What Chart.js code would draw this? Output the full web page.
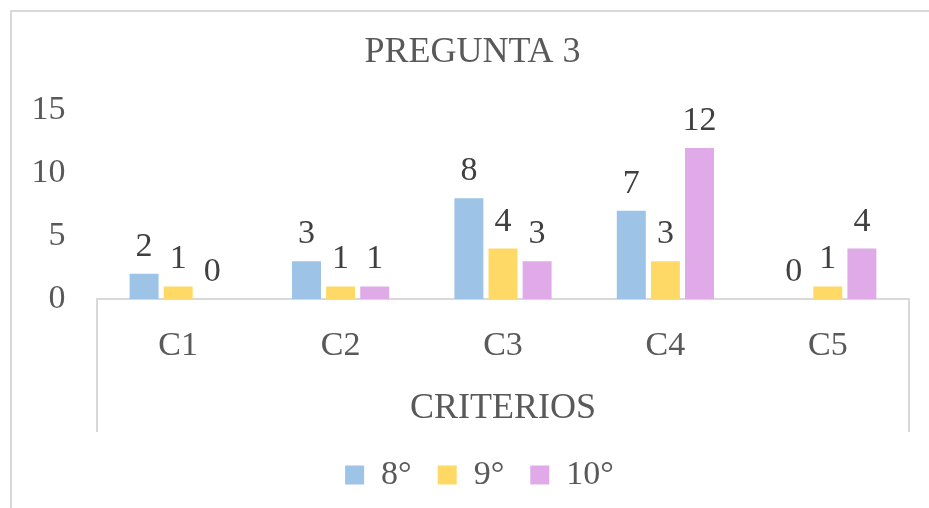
<!DOCTYPE html>
<html>
<head>
<meta charset="utf-8">
<script src="https://cdn.jsdelivr.net/npm/chart.js@4"></script>
<style>
  html, body { margin: 0; padding: 0; background: #fff; overflow: hidden; }
  #wrap { position: relative; width: 929px; height: 508px; }
  #frame { position: absolute; left: 10px; top: 10px; width: 1000px; height: 1000px;
           border: 2px solid #d9d9d9; box-sizing: border-box; }
  canvas { position: absolute; left: 0; top: 0; }
</style>
</head>
<body>
<div id="wrap">
  <div id="frame"></div>
  <canvas id="chart" width="929" height="508"></canvas>
</div>
<script>
// data
var categories = ["C1", "C2", "C3", "C4", "C5"];
var seriesNames = ["8°", "9°", "10°"];
var grado8 = [2, 3, 8, 7, 0];
var grado9 = [1, 1, 4, 3, 1];
var grado10 = [0, 1, 3, 12, 4];

var FONT = "'Liberation Serif', 'Times New Roman', serif";

// value labels above each bar
var valueLabels = {
  id: "valueLabels",
  afterDatasetsDraw: function (chart) {
    var ctx = chart.ctx;
    ctx.save();
    ctx.font = "34px " + FONT;
    ctx.fillStyle = "#404040";
    ctx.textAlign = "center";
    ctx.textBaseline = "alphabetic";
    chart.data.datasets.forEach(function (ds, i) {
      chart.getDatasetMeta(i).data.forEach(function (bar, j) {
        ctx.fillText(String(ds.data[j]), bar.x, bar.y - 18);
      });
    });
    ctx.restore();
  }
};

// side lines of the category axis box
var axisBox = {
  id: "axisBox",
  afterLayout: function (chart) {
    // title and legend sit a bit right of the canvas centre
    chart.legend.left += 50;
    chart.titleBlock.left += 36;
  },
  afterDraw: function (chart) {
    var x = chart.scales.x;
    var ctx = chart.ctx;
    ctx.save();
    ctx.strokeStyle = "#d9d9d9";
    ctx.lineWidth = 2;
    ctx.beginPath();
    ctx.moveTo(x.left, x.top);
    ctx.lineTo(x.left, x.bottom);
    ctx.moveTo(x.right, x.top);
    ctx.lineTo(x.right, x.bottom);
    ctx.stroke();
    ctx.restore();
  }
};

var chart = new Chart(document.getElementById("chart"), {
  type: "bar",
  data: {
    labels: categories,
    datasets: [
      { label: seriesNames[0], data: grado8, backgroundColor: "#9dc3e6" },
      { label: seriesNames[1], data: grado9, backgroundColor: "#ffd966" },
      { label: seriesNames[2], data: grado10, backgroundColor: "#e0aae9" }
    ]
  },
  options: {
    responsive: false,
    animation: false,
    layout: { padding: { left: 0, right: 20, top: 0, bottom: 6 } },
    categoryPercentage: 0.63,
    barPercentage: 0.85,
    plugins: {
      title: {
        display: true,
        text: "PREGUNTA 3",
        color: "#595959",
        font: { family: FONT, size: 36, weight: "normal" },
        padding: { top: 31, bottom: 36 }
      },
      legend: {
        position: "bottom",
        labels: {
          color: "#595959",
          font: { family: FONT, size: 34 },
          boxWidth: 19,
          boxHeight: 19,
          padding: 26
        }
      },
      tooltip: { enabled: false }
    },
    scales: {
      x: {
        grid: { display: false, drawTicks: false },
        border: { display: true, color: "#d9d9d9", width: 2 },
        ticks: { color: "#595959", font: { family: FONT, size: 34 }, padding: 27 },
        title: {
          display: true,
          text: "CRITERIOS",
          color: "#595959",
          font: { family: FONT, size: 36, lineHeight: 0.84 },
          padding: { top: 0, bottom: 8 }
        }
      },
      y: {
        min: 0,
        max: 15,
        grid: { display: false, drawTicks: false },
        border: { display: false },
        ticks: { stepSize: 5, color: "#595959", font: { family: FONT, size: 34 }, padding: 31.5 }
      }
    }
  },
  plugins: [valueLabels, axisBox]
});
</script>
</body>
</html>
